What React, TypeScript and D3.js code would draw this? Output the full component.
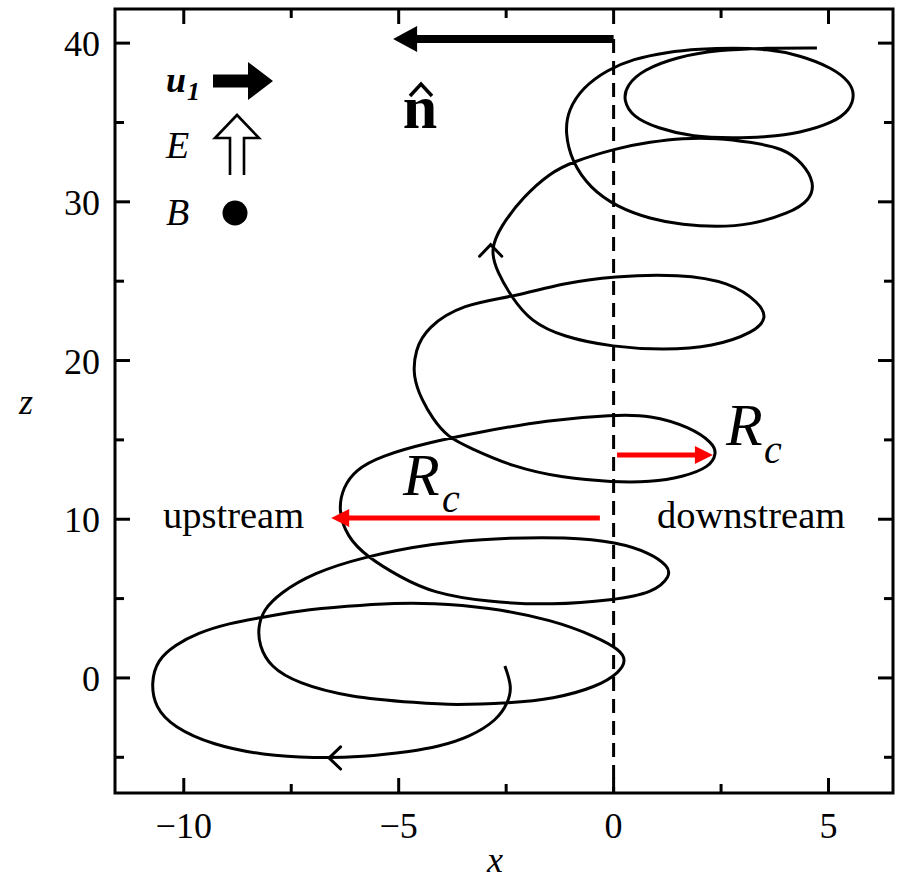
import React from 'react';
import * as d3 from 'd3';

// Axis ticks
const xMajorTicks = [-10, -5, 0, 5];
const xMinorTicks = [-7.5, -2.5, 2.5];
const zMajorTicks = [0, 10, 20, 30, 40];
const zMinorTicks = [-5, 5, 15, 25, 35];

// Ion trajectory in the (x, z) plane, in order of travel
const trajX = [
  -2.53, -2.36, -2.46, -2.71, -3.34, -4.11, -4.67, -5.83, -6.99, -8.15,
  -9.32, -10.25, -10.67, -10.76, -10.62, -10.2, -9.69, -8.92, -8.27, -7.36,
  -6.2, -5.04, -4.27, -2.94, -1.41, -0.39, 0.15, 0.29, 0.15, -0.39,
  -1.41, -2.41, -3.73, -4.5, -6.2, -7.36, -7.99, -8.25, -8.27, -8.15,
  -7.76, -6.99, -5.83, -4.2, -2.64, -1.08, 0.08, 0.85, 1.27, 1.33,
  0.92, -0.01, -1.41, -2.94, -4.2, -4.97, -5.73, -6.2, -6.41, -6.29,
  -6.01, -5.43, -4.27, -3.11, -1.55, -0.01, 0.85, 1.78, 2.31, 2.4,
  2.24, 1.61, 0.85, -0.01, -1.18, -2.34, -3.34, -3.87, -4.22, -4.46,
  -4.67, -4.62, -4.34, -3.5, -2.36, -1.18, -0.01, 1.54, 2.71, 3.4,
  3.57, 3.29, 2.31, 1.15, -0.01, -1.18, -1.94, -2.36, -2.71, -2.87,
  -2.64, -2.11, -1.48, -0.97, 0.08, 0.85, 1.61, 2.4, 3.17, 3.94,
  4.4, 4.68, 4.57, 4.1, 3.17, 2.4, 1.61, 0.85, 0.08, -0.55,
  -0.97, -1.13, -1.06, -0.71, -0.15, 0.45, 1.24, 2.01, 2.78, 3.57,
  4.33, 5.1, 5.5, 5.61, 5.5, 5.1, 4.33, 3.57, 2.78, 1.85,
  1.01, 0.45, 0.22, 0.31, 0.68, 1.47, 2.4, 3.57, 4.73,
];
const trajZ = [
  0.75, -0.57, -1.58, -2.65, -3.72, -4.35, -4.61, -4.98, -5.05, -4.86,
  -4.23, -3.09, -1.83, -0.32, 1.13, 2.07, 2.83, 3.46, 3.77, 4.22,
  4.53, 4.72, 4.72, 4.47, 3.65, 2.58, 1.76, 1.13, 0.37, -0.57,
  -1.33, -1.58, -1.71, -1.58, -1.2, -0.32, 0.69, 2.07, 3.21, 4.28,
  5.35, 6.61, 7.62, 8.5, 8.82, 8.88, 8.56, 7.87, 7.05, 6.42,
  5.35, 4.91, 4.59, 4.78, 5.35, 6.36, 7.62, 8.88, 10.58, 12.03,
  13.1, 13.98, 14.86, 15.49, 16.25, 16.57, 16.57, 15.81, 14.8, 14.17,
  13.29, 12.66, 12.34, 12.34, 12.6, 13.29, 14.49, 15.18, 16.38, 17.51,
  18.96, 20.66, 22.11, 23.56, 24.0, 24.88, 25.32, 25.45, 24.95, 23.62,
  22.68, 21.8, 20.85, 20.66, 20.85, 21.48, 22.49, 23.94, 25.58, 26.96,
  28.41, 30.3, 31.81, 32.51, 33.39, 33.77, 34.02, 34.02, 33.77, 33.39,
  32.45, 31.18, 30.11, 29.29, 28.54, 28.41, 28.54, 28.92, 29.67, 30.87,
  32.51, 34.34, 35.78, 37.23, 38.31, 39.0, 39.44, 39.63, 39.69, 39.63,
  39.25, 38.43, 37.55, 36.73, 35.78, 34.97, 34.34, 34.08, 34.02, 34.08,
  34.65, 35.34, 36.41, 37.36, 38.31, 39.12, 39.57, 39.69, 39.69,
];

// Direction-of-travel chevrons: tip position and heading (screen degrees)
const chevronX = [-6.62, -2.86];
const chevronZ = [-5.04, 27.3];
const chevronHeading = [180, -90];

// Gyroradius arrows (from x, to x, at height z)
const radiusFromX = [-0.32, 0.08];
const radiusToX = [-6.57, 2.31];
const radiusZ = [10.07, 14.05];

// Shock normal arrow along the top
const normalFromX = 0;
const normalToX = -5.13;
const normalZ = 40.26;

const W = 903;
const H = 881;
const LEFT = 115;
const RIGHT = 893;
const TOP = 9;
const BOTTOM = 793;

const serif = "'Liberation Serif', 'Times New Roman', serif";

function arrowPath(x1: number, y1: number, x2: number, y2: number, w: number, hl: number, hw: number) {
  const dx = x2 - x1;
  const dy = y2 - y1;
  const L = Math.hypot(dx, dy);
  const ux = dx / L;
  const uy = dy / L;
  const px = -uy;
  const py = ux;
  const bx = x2 - ux * hl;
  const by = y2 - uy * hl;
  const pts: [number, number][] = [
    [x1 + (px * w) / 2, y1 + (py * w) / 2],
    [bx + (px * w) / 2, by + (py * w) / 2],
    [bx + px * hw, by + py * hw],
    [x2, y2],
    [bx - px * hw, by - py * hw],
    [bx - (px * w) / 2, by - (py * w) / 2],
    [x1 - (px * w) / 2, y1 - (py * w) / 2],
  ];
  return 'M' + pts.map((p) => p.join(',')).join('L') + 'Z';
}

export default function App() {
  const x = d3.scaleLinear().domain([-11.6, 6.5]).range([LEFT, RIGHT]);
  const z = d3.scaleLinear().domain([-7.25, 42.15]).range([BOTTOM, TOP]);

  const pts: [number, number][] = trajX.map((v, i) => [v, trajZ[i]]);
  const line = d3
    .line<[number, number]>()
    .x((d) => x(d[0]))
    .y((d) => z(d[1]))
    .curve(d3.curveBasis);
  const trajPath = line(pts) || '';

  const majorLen = 15;
  const minorLen = 9;
  const tickW = 3;

  const xTickFmt = (v: number) => (v < 0 ? '\u2212' + Math.abs(v) : String(v));

  // hollow upward arrow for E
  const eCx = 237;
  const eTop = 115;
  const eHeadBase = 138;
  const eBottom = 175;
  const eShaft = 7;
  const eHead = 22;
  const ePath = `M${eCx - eShaft},${eBottom}L${eCx - eShaft},${eHeadBase}L${eCx - eHead},${eHeadBase}L${eCx},${eTop}L${eCx + eHead},${eHeadBase}L${eCx + eShaft},${eHeadBase}L${eCx + eShaft},${eBottom}`;

  // circumflex over the normal vector symbol
  const hatCx = 421;
  const hatPath = `M${hatCx - 11},${96}L${hatCx},${84}L${hatCx + 11},${96}`;

  return (
    <svg
      width={W}
      height={H}
      viewBox={`0 0 ${W} ${H}`}
      style={{ position: 'absolute', left: 0, top: 0, background: '#fff' }}
    >
      <rect x={0} y={0} width={W} height={H} fill="#fff" />

      {/* dashed shock line at x = 0 */}
      <line
        x1={x(0)}
        x2={x(0)}
        y1={z(normalZ)}
        y2={BOTTOM}
        stroke="#000"
        strokeWidth={3}
        strokeDasharray="14,8"
      />

      {/* trajectory */}
      <path d={trajPath} fill="none" stroke="#000" strokeWidth={3} strokeLinejoin="round" strokeLinecap="butt" />

      {/* direction chevrons */}
      {chevronX.map((cx, i) => {
        const tx = x(cx);
        const ty = z(chevronZ[i]);
        const a = (chevronHeading[i] * Math.PI) / 180;
        const arm = 16;
        const spread = (44 * Math.PI) / 180;
        const p1 = [tx - arm * Math.cos(a - spread), ty - arm * Math.sin(a - spread)];
        const p2 = [tx - arm * Math.cos(a + spread), ty - arm * Math.sin(a + spread)];
        return (
          <path
            key={'chev' + i}
            d={`M${p1[0]},${p1[1]}L${tx},${ty}L${p2[0]},${p2[1]}`}
            fill="none"
            stroke="#000"
            strokeWidth={3}
            strokeLinecap="round"
            strokeLinejoin="miter"
          />
        );
      })}

      {/* frame */}
      <rect x={LEFT} y={TOP} width={RIGHT - LEFT} height={BOTTOM - TOP} fill="none" stroke="#000" strokeWidth={3} />

      {/* ticks */}
      {xMajorTicks.map((t) => (
        <g key={'xM' + t}>
          <line x1={x(t)} x2={x(t)} y1={BOTTOM} y2={BOTTOM - majorLen} stroke="#000" strokeWidth={tickW} />
          <line x1={x(t)} x2={x(t)} y1={TOP} y2={TOP + majorLen} stroke="#000" strokeWidth={tickW} />
          <text
            x={x(t)}
            y={838}
            textAnchor="middle"
            fontFamily={serif}
            fontSize={36}
            fill="#000"
          >
            {xTickFmt(t)}
          </text>
        </g>
      ))}
      {xMinorTicks.map((t) => (
        <g key={'xm' + t}>
          <line x1={x(t)} x2={x(t)} y1={BOTTOM} y2={BOTTOM - minorLen} stroke="#000" strokeWidth={tickW} />
          <line x1={x(t)} x2={x(t)} y1={TOP} y2={TOP + minorLen} stroke="#000" strokeWidth={tickW} />
        </g>
      ))}
      {zMajorTicks.map((t) => (
        <g key={'zM' + t}>
          <line x1={LEFT} x2={LEFT + majorLen} y1={z(t)} y2={z(t)} stroke="#000" strokeWidth={tickW} />
          <line x1={RIGHT} x2={RIGHT - majorLen} y1={z(t)} y2={z(t)} stroke="#000" strokeWidth={tickW} />
          <text x={100} y={z(t) + 13} textAnchor="end" fontFamily={serif} fontSize={36} fill="#000">
            {String(t)}
          </text>
        </g>
      ))}
      {zMinorTicks.map((t) => (
        <g key={'zm' + t}>
          <line x1={LEFT} x2={LEFT + minorLen} y1={z(t)} y2={z(t)} stroke="#000" strokeWidth={tickW} />
          <line x1={RIGHT} x2={RIGHT - minorLen} y1={z(t)} y2={z(t)} stroke="#000" strokeWidth={tickW} />
        </g>
      ))}

      {/* axis titles */}
      <text x={495} y={872} textAnchor="middle" fontFamily={serif} fontStyle="italic" fontSize={36} fill="#000">
        x
      </text>
      <text x={26} y={414} textAnchor="middle" fontFamily={serif} fontStyle="italic" fontSize={36} fill="#000">
        z
      </text>

      {/* shock normal */}
      <path
        d={arrowPath(x(normalFromX), z(normalZ), x(normalToX), z(normalZ), 8, 24, 13)}
        fill="#000"
      />
      <text x={420} y={128} textAnchor="middle" fontFamily={serif} fontWeight="bold" fontSize={62} fill="#000">
        n
      </text>
      <path d={hatPath} fill="none" stroke="#000" strokeWidth={3.5} strokeLinejoin="miter" />

      {/* gyroradius arrows */}
      {radiusFromX.map((fx, i) => (
        <path
          key={'r' + i}
          d={arrowPath(x(fx), z(radiusZ[i]), x(radiusToX[i]), z(radiusZ[i]), 5, 18, 9)}
          fill="#ff0000"
        />
      ))}
      <text x={403} y={495} fontFamily={serif} fontStyle="italic" fontSize={60} fill="#000">
        R
      </text>
      <text x={442} y={512} fontFamily={serif} fontStyle="italic" fontSize={40} fill="#000">
        c
      </text>
      <text x={726} y={445} fontFamily={serif} fontStyle="italic" fontSize={60} fill="#000">
        R
      </text>
      <text x={764} y={463} fontFamily={serif} fontStyle="italic" fontSize={40} fill="#000">
        c
      </text>

      {/* region labels */}
      <text x={163} y={528} fontFamily={serif} fontSize={38.5} fill="#000">
        upstream
      </text>
      <text x={657} y={528} fontFamily={serif} fontSize={38.5} fill="#000">
        downstream
      </text>

      {/* legend */}
      <text x={166} y={92} fontFamily={serif} fontStyle="italic" fontWeight="bold" fontSize={36} fill="#000">
        u
      </text>
      <text x={187} y={100} fontFamily={serif} fontStyle="italic" fontWeight="bold" fontSize={26} fill="#000">
        1
      </text>
      <path d={arrowPath(213, 81, 273, 81, 13, 25, 19)} fill="#000" />

      <text x={166} y={158} fontFamily={serif} fontStyle="italic" fontSize={38} fill="#000">
        E
      </text>
      <path d={ePath} fill="#fff" stroke="#000" strokeWidth={2.6} strokeLinejoin="miter" />

      <text x={166} y={225} fontFamily={serif} fontStyle="italic" fontSize={38} fill="#000">
        B
      </text>
      <circle cx={235} cy={213} r={12.5} fill="#000" />
    </svg>
  );
}
